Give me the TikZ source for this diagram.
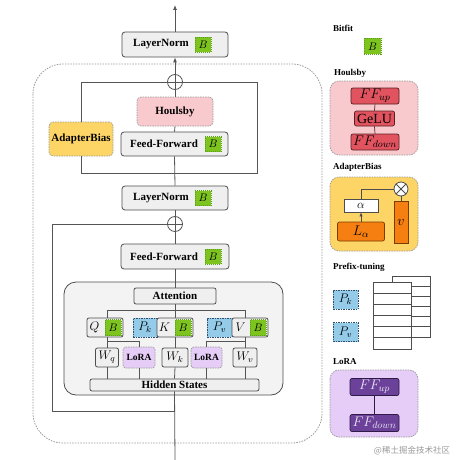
\RequirePackage{fix-cm}
\documentclass[tikz,border=0pt]{standalone}
\usepackage{fontspec}
\setmainfont{Liberation Serif}
\newfontfamily\cjk{Noto Sans CJK SC}
\usetikzlibrary{arrows.meta}
\definecolor{gfill}{HTML}{EFEFEF}
\definecolor{gdraw}{HTML}{4D4D4D}
\definecolor{lnc}{HTML}{555555}
\definecolor{bgrn}{HTML}{7DC41F}
\definecolor{bgrnd}{HTML}{5E9E1E}
\definecolor{pinkf}{HTML}{F9CACD}
\definecolor{yelf}{HTML}{FDD567}
\definecolor{bluef}{HTML}{93CBE9}
\definecolor{blued}{HTML}{2F4F6F}
\definecolor{lilf}{HTML}{E5CDF7}
\definecolor{redf}{HTML}{E0535F}
\definecolor{redd}{HTML}{5A1E22}
\definecolor{orf}{HTML}{F57F10}
\definecolor{ord}{HTML}{7A3D00}
\definecolor{purf}{HTML}{6B4199}
\definecolor{purd}{HTML}{2F1B48}
\definecolor{dashg}{HTML}{9A9A9A}
\definecolor{attf}{HTML}{F3F3F3}
\begin{document}
\begin{tikzpicture}[x=1pt,y=-1pt,
  conn/.style={draw=lnc, line width=0.8pt},
  gbox/.style={draw=gdraw, fill=gfill, rounded corners=3pt, line width=0.8pt, inner sep=0pt},
  lbl/.style={inner sep=0pt, font=\bfseries\fontsize{11}{11}\selectfont},
  plbl/.style={inner sep=0pt, anchor=west, font=\bfseries\fontsize{9}{9}\selectfont},
  bsq/.style={draw=bgrnd, dash pattern=on 1pt off 1pt, fill=bgrn, inner sep=0pt, line width=0.5pt, minimum width=16pt, minimum height=15pt, font=\fontsize{11}{11}\selectfont},
  dbox/.style={draw=dashg, dash pattern=on 1.5pt off 1pt, rounded corners=4pt, inner sep=0pt, line width=0.7pt},
  pkbox/.style={draw=blued, fill=bluef, dash pattern=on 1.5pt off 1pt, inner sep=0pt, line width=0.7pt, font=\fontsize{12.5}{12.5}\selectfont},
  panel/.style={draw=dashg, dash pattern=on 1.5pt off 1pt, rounded corners=9pt, line width=0.7pt},
  redbox/.style={draw=redd, fill=redf, rounded corners=2pt, line width=0.7pt, inner sep=0pt, font=\fontsize{14}{14}\selectfont},
  orbox/.style={draw=ord, fill=orf, rounded corners=2pt, line width=0.7pt, inner sep=0pt, font=\fontsize{14}{14}\selectfont},
  purbox/.style={draw=purd, fill=purf, rounded corners=2pt, line width=0.7pt, inner sep=0pt, text=white!88!purf, font=\fontsize{14}{14}\selectfont},
  mathbox/.style={draw=gdraw, fill=white, rounded corners=2pt, line width=0.8pt, inner sep=0pt, font=\fontsize{12.5}{12.5}\selectfont},
  opl/.style={circle, draw=lnc, fill=white, line width=0.8pt, minimum size=15pt, inner sep=0pt},
  arr/.style={conn, -{Latex[length=5pt,width=4pt]}}
]
\useasboundingbox (0,0) rectangle (460,460);

% big dashed container
\draw[draw=dashg, dash pattern=on 1.5pt off 1.2pt, line width=0.8pt, rounded corners=30pt] (33,64) rectangle (322,443);

% ---------- main column ----------
\coordinate (topend) at (175,5);
\coordinate (botend) at (175,460);
\coordinate (j1) at (175,173);
\coordinate (rc) at (257,173);
\coordinate (j2) at (175,411);
\coordinate (lc) at (52,411);

\node[gbox, minimum width=106pt, minimum height=25pt] (ln1) at (175,44.5) {};
\node[lbl] (ln1t) at (161,44.5) {LayerNorm};
\node[bsq] (ln1b) at (203,44.5) {$B$};

\node[opl] (op1) at (175,82) {};

\node[dbox, fill=pinkf, minimum width=76pt, minimum height=29pt, lbl] (hou) at (175,111.5) {Houlsby};
\node[gbox, minimum width=107pt, minimum height=24pt] (ff1) at (174.5,144) {};
\node[lbl] (ff1t) at (164,144) {Feed-Forward};
\node[bsq] (ff1b) at (213,144) {$B$};
\node[dbox, fill=yelf, minimum width=64pt, minimum height=34pt, lbl] (ab) at (81,139) {AdapterBias};

\node[gbox, minimum width=106pt, minimum height=24pt] (ln2) at (175,198) {};
\node[lbl] (ln2t) at (161,198) {LayerNorm};
\node[bsq] (ln2b) at (203,198) {$B$};

\node[opl] (op2) at (175,224) {};

\node[gbox, minimum width=108pt, minimum height=25pt] (ff2) at (175,256.5) {};
\node[lbl] (ff2t) at (164,256.5) {Feed-Forward};
\node[bsq] (ff2b) at (213,256.5) {$B$};

% attention container
\draw[draw=gdraw, fill=attf, line width=0.8pt, rounded corners=12pt] (64,282) rectangle (283,395);
\node[gbox, rounded corners=2pt, minimum width=82pt, minimum height=16pt, lbl] (att) at (175,296) {Attention};

\node[mathbox, fill=gfill, minimum width=36pt, minimum height=19pt] (q) at (105,327.5) {};
\node[inner sep=0pt, font=\fontsize{12.5}{12.5}\selectfont] (qt) at (94.5,327.5) {$Q$};
\node[bsq, minimum height=16pt] (qb) at (113,327.5) {$B$};
\node[pkbox, minimum width=24pt, minimum height=19pt] (pk) at (145,327.5) {$P_k$};
\node[mathbox, fill=gfill, minimum width=36pt, minimum height=19pt] (k) at (175,327.5) {};
\node[inner sep=0pt, font=\fontsize{12.5}{12.5}\selectfont] (kt) at (164.5,327.5) {$K$};
\node[bsq, minimum height=16pt] (kb) at (183,327.5) {$B$};
\node[pkbox, minimum width=25pt, minimum height=19pt] (pv) at (219.5,327.5) {$P_v$};
\node[mathbox, fill=gfill, minimum width=36pt, minimum height=19pt] (v) at (250,327.5) {};
\node[inner sep=0pt, font=\fontsize{12.5}{12.5}\selectfont] (vt) at (240.5,327.5) {$V$};
\node[bsq, minimum height=16pt] (vb) at (258,327.5) {$B$};

\node[mathbox, fill=gfill, minimum width=23pt, minimum height=19pt] (wq) at (107,357.5) {$W_q$};
\node[dbox, fill=lilf, rounded corners=3pt, minimum width=32pt, minimum height=21pt, font=\bfseries\fontsize{9.5}{9.5}\selectfont] (lora1) at (139,357.5) {LoRA};
\node[mathbox, fill=gfill, minimum width=26pt, minimum height=19pt] (wk) at (175,357.5) {$W_k$};
\node[dbox, fill=lilf, rounded corners=3pt, minimum width=31pt, minimum height=21pt, font=\bfseries\fontsize{9.5}{9.5}\selectfont] (lora2) at (206.5,357.5) {LoRA};
\node[mathbox, fill=gfill, minimum width=24pt, minimum height=19pt] (wv) at (245,357.5) {$W_v$};
\node[gbox, rounded corners=2pt, minimum width=169pt, minimum height=12pt, lbl] (hs) at (174.5,385) {Hidden States};

\coordinate (brL) at (107,310);
\coordinate (brC) at (175,310);
\coordinate (brR) at (245,310);
\coordinate (ql) at (107,341);
\coordinate (vl) at (245,341);

% attention wiring
\draw[conn] (att.south) -- (brC);
\draw[conn] (brL) -- (brR);
\draw[conn] (brL) -- (brL |- q.north);
\draw[conn] (brC) -- (k.north);
\draw[conn] (brR) -- (brR |- v.north);
\draw[conn] (wq.north |- q.south) -- (wq.north);
\draw[conn] (ql) -| (lora1.north);
\draw[conn] (k.south) -- (wk.north);
\draw[conn] (wv.north |- v.south) -- (wv.north);
\draw[conn] (vl) -| (lora2.north);
\draw[conn] (wq.south) -- (wq.south |- hs.north);
\draw[conn] (lora1.south) -- (lora1.south |- hs.north);
\draw[conn] (wk.south) -- (hs.north);
\draw[conn] (lora2.south) -- (lora2.south |- hs.north);
\draw[conn] (wv.south) -- (wv.south |- hs.north);

% main line
\draw[conn] (botend) -- (hs.south);
\draw[conn] (att.north) -- (ff2.south);
\draw[conn] (ff2.north) -- (op2.south);
\draw[conn] (op2.north) -- (ln2.south);
\draw[conn] (ln2.north) -- (ff1.south);
\draw[conn] (ff1.north) -- (hou.south);
\draw[conn] (hou.north) -- (op1.south);
\draw[arr] (op1.north) -- (ln1.south);
\draw[arr] (ln1.north) -- (topend);
\draw[conn] (op1.west) -- (op1.east);
\draw[conn] (op1.north) -- (op1.south);
\draw[conn] (op2.west) -- (op2.east);
\draw[conn] (op2.north) -- (op2.south);

% residuals
\draw[conn] (j2) -- (lc) |- (op2.west);
\draw[conn] (j1) -| (ab.south);
\draw[conn] (ab.north) |- (op1.west);
\draw[conn] (j1) -- (rc) |- (op1.east);

% ---------- right legend ----------
\node[plbl] (bitl) at (333,28) {Bitfit};
\node[bsq, minimum width=17pt, minimum height=16pt] (bitb) at (372.5,46.5) {$B$};

\node[plbl] (houl) at (334,73) {Houlsby};
\draw[panel, fill=pinkf] (330,81) rectangle (418,155);
\node[redbox, minimum width=48pt, minimum height=16pt] (ffu) at (375,96) {$FF_{up}$};
\node[redbox, minimum width=40pt, minimum height=15pt] (gelu) at (374.5,118.5) {GeLU};
\node[redbox, minimum width=48pt, minimum height=16pt] (ffd) at (375,142) {$FF_{down}$};
\draw[draw=redd, line width=0.7pt] (ffu.south) -- (gelu.north);
\draw[draw=redd, line width=0.7pt] (gelu.south) -- (ffd.north);

\node[plbl] (abl) at (333,167) {AdapterBias};
\draw[panel, fill=yelf] (330,177) rectangle (418,251);
\node[mathbox, draw=gdraw, rounded corners=0pt, minimum width=34pt, minimum height=13pt, font=\fontsize{12}{12}\selectfont] (al) at (361,205.5) {$\alpha$};
\node[orbox, minimum width=47pt, minimum height=19pt] (la) at (361,231.5) {$L_\alpha$};
\node[orbox, rounded corners=0pt, minimum width=14pt, minimum height=42pt] (vv) at (401,222) {$v$};
\node[circle, draw=gdraw, fill=white, line width=0.8pt, minimum size=14pt, inner sep=0pt] (ot) at (401,189) {};
\draw[gdraw, line width=0.8pt] (ot.north west) -- (ot.south east);
\draw[gdraw, line width=0.8pt] (ot.north east) -- (ot.south west);
\draw[gdraw, line width=0.8pt, -{Latex[length=4pt,width=3.5pt]}] (la.north) -- (al.south);
\draw[gdraw, line width=0.8pt] (al.north) |- (ot.west);
\draw[gdraw, line width=0.8pt] (vv.north) -- (ot.south);

\node[plbl] (prl) at (333,267) {Prefix-tuning};
\node[pkbox, minimum width=25pt, minimum height=19pt] (pk2) at (345.5,299.5) {$P_k$};
\node[pkbox, minimum width=25pt, minimum height=19pt] (pv2) at (345.5,332) {$P_v$};
\draw[draw=gdraw, fill=white, line width=0.8pt] (392,276) rectangle (430,337);
\foreach \i in {1,...,5} {\draw[gdraw, line width=0.8pt] (392,276+\i*10.17) -- (430,276+\i*10.17);}
\draw[draw=gdraw, fill=white, line width=0.8pt] (373,282) rectangle (411,349);
\foreach \i in {1,...,5} {\draw[gdraw, line width=0.8pt] (373,282+\i*11.17) -- (411,282+\i*11.17);}

\node[plbl] (lol) at (333,362) {LoRA};
\draw[panel, fill=lilf] (330,370) rectangle (418,437);
\node[purbox, minimum width=49pt, minimum height=17pt] (lu) at (374.5,387) {$FF_{up}$};
\node[purbox, minimum width=49pt, minimum height=17pt] (ld) at (374.5,423) {$FF_{down}$};
\draw[draw=purd, line width=0.7pt] (lu.south) -- (ld.north);

\node[inner sep=0pt, text=black!40, font=\cjk\fontsize{8.5}{8.5}\selectfont] (wm) at (412,451) {@稀土掘金技术社区};
\end{tikzpicture}
\end{document}
